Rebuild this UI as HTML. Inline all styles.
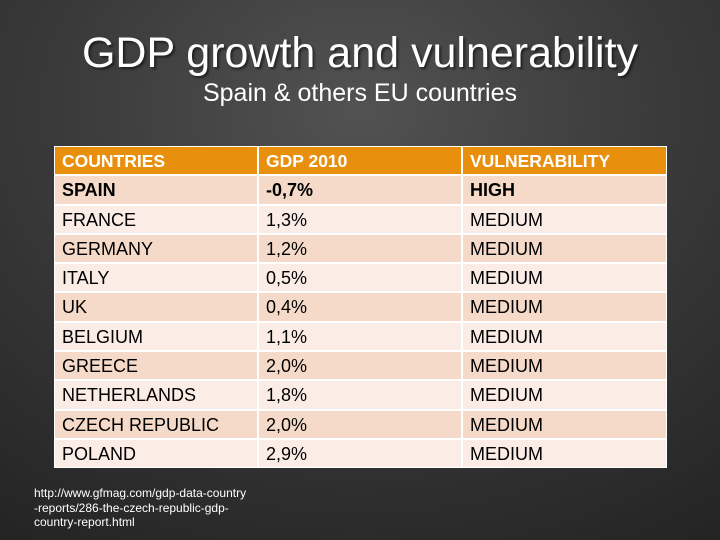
<!DOCTYPE html>
<html><head><meta charset="utf-8"><style>
body{margin:0;width:720px;height:540px;overflow:hidden;font-family:"Liberation Sans",sans-serif;}
#slide{position:relative;width:720px;height:540px;background:radial-gradient(ellipse 700px 560px at 360px 110px,#525252 0%,#393939 45%,#202020 100%);}
h1{position:absolute;top:29px;left:0;width:720px;text-align:center;margin:0;font-weight:normal;font-size:43px;color:#fff;text-shadow:2px 2px 2px rgba(0,0,0,0.5);}
h2{position:absolute;top:79px;left:0;width:720px;text-align:center;margin:0;font-weight:normal;font-size:25px;color:#fff;}
#tbl{position:absolute;left:54px;top:146px;width:611px;background:#fff;padding:1px;}
.row{display:flex;height:27.3px;margin-bottom:2px;}
.row:last-child{margin-bottom:0}
.c{height:100%;font-size:18px;line-height:29px;padding-left:7px;color:#000;box-sizing:border-box;white-space:nowrap;}
.c1{width:202px;margin-right:2px}.c2{width:202px;margin-right:2px}.c3{flex:1}
.hd .c{background:#e8900e;color:#fff;font-weight:bold;font-size:17.5px}
.a .c{background:#f6dac9}.b .c{background:#fbede6}
.bold .c{font-weight:bold}
#src{position:absolute;left:34px;top:486px;font-size:12px;line-height:14.5px;color:#fff;}
</style></head><body>
<div id="slide">
<h1>GDP growth and vulnerability</h1>
<h2>Spain &amp; others EU countries</h2>
<div id="tbl">
<div class="row hd"><div class="c c1">COUNTRIES</div><div class="c c2">GDP 2010</div><div class="c c3">VULNERABILITY</div></div>
<div class="row a bold"><div class="c c1">SPAIN</div><div class="c c2">-0,7%</div><div class="c c3">HIGH</div></div>
<div class="row b"><div class="c c1">FRANCE</div><div class="c c2">1,3%</div><div class="c c3">MEDIUM</div></div>
<div class="row a"><div class="c c1">GERMANY</div><div class="c c2">1,2%</div><div class="c c3">MEDIUM</div></div>
<div class="row b"><div class="c c1">ITALY</div><div class="c c2">0,5%</div><div class="c c3">MEDIUM</div></div>
<div class="row a"><div class="c c1">UK</div><div class="c c2">0,4%</div><div class="c c3">MEDIUM</div></div>
<div class="row b"><div class="c c1">BELGIUM</div><div class="c c2">1,1%</div><div class="c c3">MEDIUM</div></div>
<div class="row a"><div class="c c1">GREECE</div><div class="c c2">2,0%</div><div class="c c3">MEDIUM</div></div>
<div class="row b"><div class="c c1">NETHERLANDS</div><div class="c c2">1,8%</div><div class="c c3">MEDIUM</div></div>
<div class="row a"><div class="c c1">CZECH REPUBLIC</div><div class="c c2">2,0%</div><div class="c c3">MEDIUM</div></div>
<div class="row b"><div class="c c1">POLAND</div><div class="c c2">2,9%</div><div class="c c3">MEDIUM</div></div>
</div>
<div id="src">http://www.gfmag.com/gdp-data-country<br>-reports/286-the-czech-republic-gdp-<br>country-report.html</div>
</div>
</body></html>
